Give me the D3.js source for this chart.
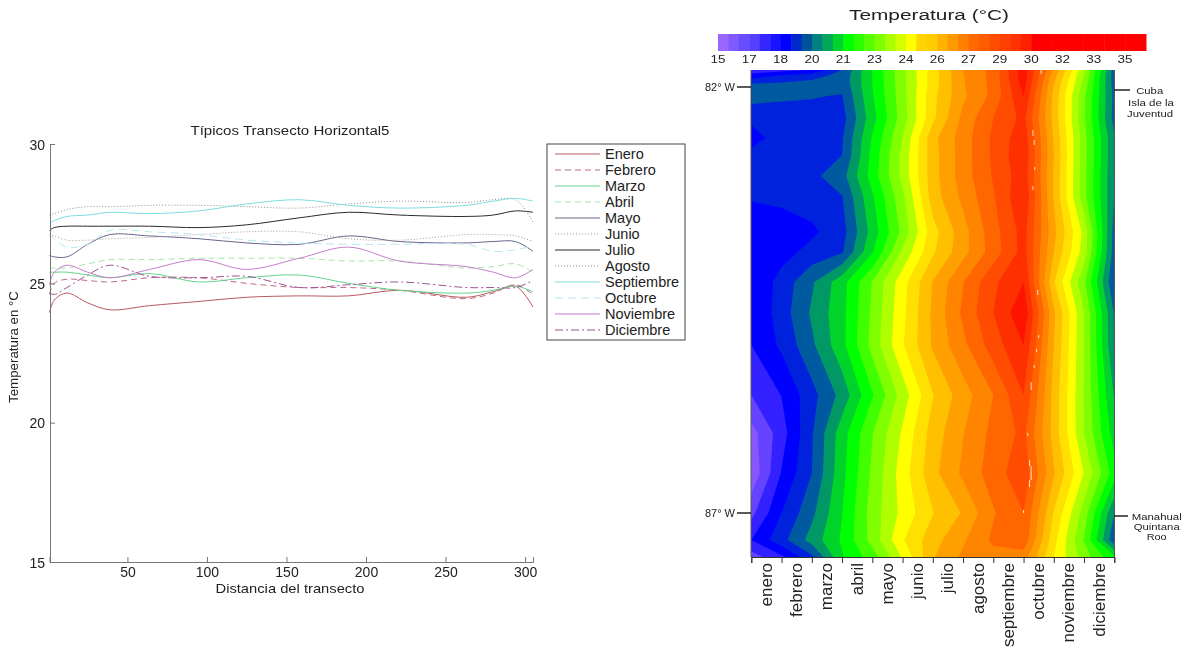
<!DOCTYPE html>
<html><head><meta charset="utf-8">
<script src="https://cdn.jsdelivr.net/npm/d3@7"></script>
<style>html,body{margin:0;padding:0;background:#fff}svg{display:block;filter:blur(0.4px)}text{font-family:"Liberation Sans",Arial,sans-serif;fill:#222}</style>
</head><body><svg id="c" width="1190" height="648"></svg>
<script>
// ---- left chart data
const chartTitle = "Típicos Transecto Horizontal5";
const transectX = [1,4,12,25,39,64,95,125,158,189,221,263,280,294,305];
const enero      = [23.95,24.4,24.65,24.3,24.05,24.2,24.35,24.5,24.55,24.55,24.75,24.5,24.7,24.9,24.15];
const febrero    = [24.6,25.0,25.15,25.1,25.05,25.2,25.2,25.0,24.85,24.85,24.75,24.45,24.65,24.95,24.6];
const marzo      = [25.4,25.4,25.4,25.3,25.2,25.35,25.05,25.2,25.3,25.0,24.75,24.65,24.75,24.9,24.7];
const abril      = [25.55,25.55,25.55,25.7,25.85,25.85,25.9,25.9,25.9,25.8,25.8,25.55,25.6,25.7,25.4];
const mayo       = [26.0,25.95,25.95,26.4,26.75,26.7,26.6,26.45,26.4,26.7,26.5,26.45,26.5,26.5,26.15];
const junio      = [26.75,26.7,26.55,26.55,26.6,26.65,26.75,26.85,26.85,26.6,26.55,26.75,26.75,26.7,26.5];
const julio      = [26.9,27.0,27.05,27.05,27.05,27.05,27.0,27.1,27.35,27.55,27.45,27.4,27.45,27.6,27.55];
const agosto     = [27.45,27.5,27.65,27.75,27.75,27.8,27.8,27.75,27.7,27.85,27.95,27.9,28.0,28.0,27.2];
const septiembre = [27.15,27.25,27.4,27.45,27.55,27.5,27.6,27.85,28.0,27.8,27.7,27.8,27.95,28.05,27.95];
const octubre    = [26.75,26.6,26.3,26.4,26.9,26.85,26.75,26.55,26.45,26.4,26.4,26.4,26.15,26.2,26.35];
const noviembre  = [24.95,25.4,25.65,25.4,25.2,25.5,25.85,25.5,25.9,26.3,25.8,25.6,25.4,25.2,25.5];
const diciembre  = [24.65,24.6,24.85,25.3,25.65,25.25,25.2,25.25,24.85,24.95,25.05,24.85,24.85,24.85,25.1];
const seriesNames = ["Enero","Febrero","Marzo","Abril","Mayo","Junio","Julio","Agosto","Septiembre","Octubre","Noviembre","Diciembre"];
const seriesValues = [enero,febrero,marzo,abril,mayo,junio,julio,agosto,septiembre,octubre,noviembre,diciembre];
const seriesColors = ["#b8585c","#c06a8a","#62d48a","#a8e4a8","#66668f","#a09a9a","#2a2a2a","#8a8a8a","#7fdde2","#b4e8ee","#c47ccc","#a0508f"];
const seriesDash = ["","6,4","","6,4","","1,2","","1,2","","8,5","","8,3,2,3"];
const yTicks = [15,20,25,30];
const xTicks = [50,100,150,200,250,300];

// ---- right chart data
const heatMonths = ["enero","febrero","marzo","abril","mayo","junio","julio","agosto","septiembre","octubre","noviembre","diciembre"];
const barLabels = ["15","17","18","20","21","23","24","26","27","29","30","32","33","35"];
const barColors = ["#9966ff","#8059ff","#664dff","#5540ff","#3326ff","#1a13ff","#0000ff","#0028cc","#005299","#008080","#00a65a","#00d32d","#00ff00","#2bff00","#55ff00","#80ff00","#aaff00","#d4ff00","#ffff00","#ffd400","#ffcc00","#ffb300","#ff9900","#ff8000","#ff6a00","#ff5c00","#ff4d00","#ff4000","#ff3300","#ff2000","#ff0000","#ff0000","#ff0000","#ff0000","#ff0000","#ff0000","#ff0000","#ff0000","#ff0000","#ff0000","#ff0000"];
const bandColors = ["#8855ff","#6644ff","#3322ff","#0000ff","#0022dd","#005aa0","#009966","#00d42b","#00ff00","#40ff00","#80ff00","#b0ff00","#ffff00","#ffe000","#ffc000","#ffa000","#ff8400","#ff6600","#ff4c00","#ff3000","#ff1400"];
// latitude rows (position along the transect, as plot pixels of the source panel) and isotherm level per month tick
const rowPos = [70,76,84,96,118,138,155,176,197,232,252,282,313,345,395,433,473,513,540,557];
const heatRows = [
[2.3,2.6,3.0,5.0,8.05,10.7,13.5,16,17.35,20.6,15.9,11.15,5.5],
[3.5,4.2,4.7,5.3,8.0,10.7,13.5,15.95,17.35,20.6,15.4,10.9,5.4],
[5.05,5.2,5.3,5.3,8.0,10.65,13.5,15.9,17.3,20.4,15,10.6,5.5],
[5.45,5.2,5.05,4.95,7.9,10.6,13.7,15.8,17.3,20.0,14.7,10.2,5.7],
[4.2,4.4,4.7,4.6,7.6,10.5,13.75,16.3,18,19.3,14.65,10.15,5.6],
[3.65,4.4,4.7,4.9,8.1,11,14.7,16.5,18.2,19.65,14.9,10.4,6.1],
[4.25,4.3,4.5,5,8.3,11.3,14.6,16.5,18.2,19.8,15,10.4,6.1],
[4.3,4.5,4.75,5.6,8.45,11.3,14.6,16.5,18.1,19.6,14.9,10.35,6],
[4.1,4.2,4.5,4.95,7.85,10.75,14.5,16.25,17.9,19.9,14.9,10.35,6],
[3.3,3.55,3.8,4.6,7.4,10.3,13.6,15.6,17.6,19.4,15.3,11.7,5.6],
[3.2,3.6,4.35,4.9,7.9,11.2,13.85,15.65,17.5,19.4,15,11.5,5.5],
[3,4.4,5.85,7.6,10.05,12.6,15.05,16.95,18.8,20,14.1,10.2,5],
[3,4.5,6.15,7.7,10.2,12.75,15.2,17.2,19,20.8,15.2,11,5.9],
[3,4.2,5.8,7.7,10.35,12.9,15.15,16.75,18.5,20,15,11,6],
[2,3.03,4.65,6.35,8.9,11.45,13.95,15.55,17,19,14.65,10.95,6.9],
[0.6,2.55,4.9,7.55,9.95,12.15,14.45,15.95,17.3,18.25,14.6,11,7.5],
[0.2,3.07,5,7.7,10.2,12.5,14.7,16.2,17.5,18.7,15.1,11.95,8.5],
[1.7,4,5.75,7.97,10.45,12.3,13.95,15.1,16.9,18,13.95,10.55,6],
[3,4.65,6.4,8.15,10.35,12.9,14.6,15.85,17.2,17.7,13.35,9.95,5.2],
[1.5,2.8,4.8,7.9,9.5,12.1,14.9,16.2,16.6,16.5,13,10.5,8.2]];
// small white gaps in the source contours: [month tick, rowFrom, rowTo]
const gapMarks = [[9.58,70,74],[9.31,130,136],[9.35,140,145],[9.37,167,170],[9.31,186,190],[9.47,290,295],[9.5,335,338],[9.43,349,352],[9.35,365,368],[9.25,382,390],[9.14,433,436],[9.2,460,466],[9.25,466,480],[9.2,480,487],[9.0,510,513]];

const svg = d3.select("#c");

// ======== LEFT LINE CHART
const x = d3.scaleLinear().domain([1,305]).range([49.5,533]);
const y = d3.scaleLinear().domain([15,30]).range([562,144]);
const L = svg.append("g");
const line = d3.line().x((d,i)=>x(transectX[i])).y(d=>y(d)).curve(d3.curveCatmullRom.alpha(0.5));
seriesValues.forEach((v,i)=>{
  L.append("path").attr("d",line(v)).attr("fill","none").attr("stroke",seriesColors[i]).attr("stroke-width",1).attr("stroke-dasharray",seriesDash[i]);
});
const gx = L.append("g").attr("transform","translate(0,562)").call(d3.axisBottom(x).tickValues(xTicks).tickSize(-5).tickPadding(5));
const gy = L.append("g").attr("transform","translate(50,0)").call(d3.axisLeft(y).tickValues(yTicks).tickSize(-5).tickPadding(6).tickFormat(d3.format("d")));
[gx,gy].forEach(g=>{
  g.selectAll("path,line").attr("stroke","#777");
  g.selectAll("text").style("font-family",'"Liberation Sans",Arial,sans-serif').style("font-size","14px").attr("fill","#222");
});
gy.selectAll("text").attr("dy","0.36em").attr("x",-5);
L.append("text").attr("x",290).attr("y",135).attr("text-anchor","middle").style("font-size","12px").attr("textLength",199).attr("lengthAdjust","spacingAndGlyphs").text(chartTitle);
L.append("text").attr("x",290).attr("y",593).attr("text-anchor","middle").style("font-size","13.5px").attr("textLength",149).attr("lengthAdjust","spacingAndGlyphs").text("Distancia del transecto");
L.append("text").attr("transform","translate(18,347) rotate(-90)").attr("text-anchor","middle").style("font-size","12px").attr("textLength",112).attr("lengthAdjust","spacingAndGlyphs").text("Temperatura en °C");
// legend
const lg = L.append("g");
lg.append("rect").attr("x",547).attr("y",144).attr("width",138).attr("height",196).attr("fill","#fff").attr("stroke","#444").attr("stroke-width",1);
const ly = d3.scalePoint().domain(seriesNames).range([154,330]);
seriesNames.forEach((n,i)=>{
  lg.append("line").attr("x1",555).attr("x2",600).attr("y1",ly(n)).attr("y2",ly(n)).attr("stroke",seriesColors[i]).attr("stroke-dasharray",seriesDash[i]);
  lg.append("text").attr("x",605).attr("y",ly(n)+5).style("font-size","14.5px").text(n);
});

// ======== RIGHT CONTOUR MAP
const hx = d3.scaleLinear().domain([0.5,12.5]).range([751.3,1114.3]).clamp(true);
const hy = d3.scaleLinear().domain(rowPos.map((d,i)=>i+0.5)).range(rowPos).clamp(true);
const xm = d3.scaleLinear().domain([0,12]).range([751.3,1114.3]);
const R = svg.append("g");
const flat = heatRows.flat();
const thresholds = d3.range(bandColors.length);
const contours = d3.contours().size([13,heatRows.length]).thresholds(thresholds)(flat);
const proj = d3.geoTransform({point(a,b){this.stream.point(hx(a),hy(b));}});
const gp = d3.geoPath(proj);
R.append("rect").attr("x",hx(0.5)).attr("y",70).attr("width",363).attr("height",487).attr("fill",bandColors[0]);
R.selectAll("path.band").data(contours).join("path").attr("class","band").attr("d",gp).attr("fill",(d,i)=>bandColors[i]);
gapMarks.forEach(g=>R.append("line").attr("x1",xm(g[0])).attr("x2",xm(g[0])).attr("y1",g[1]).attr("y2",g[2]).attr("stroke","#fff").attr("stroke-width",0.8));
// axis frame
R.append("line").attr("x1",751).attr("x2",751).attr("y1",70).attr("y2",557).attr("stroke","#555");
R.append("line").attr("x1",1114.5).attr("x2",1114.5).attr("y1",70).attr("y2",557).attr("stroke","#555");
const gm = R.append("g").attr("transform","translate(0,557)").call(d3.axisBottom(xm).tickValues(d3.range(13)).tickSize(6).tickFormat(""));
gm.selectAll("path").attr("stroke","#333"); gm.selectAll("line").attr("stroke","#333");
heatMonths.forEach((m,i)=>{
  R.append("text").attr("transform",`translate(${xm(i+0.5)+5.5},563) rotate(-90)`).attr("text-anchor","end").style("font-size","17px").attr("fill","#111").text(m);
});
// side labels
const sideTicks = [[737,751,87],[1114,1130,90],[737,751,513],[1114,1128,516]];
sideTicks.forEach(t=>R.append("line").attr("x1",t[0]).attr("x2",t[1]).attr("y1",t[2]).attr("y2",t[2]).attr("stroke","#222").attr("stroke-width",1.5));
R.append("text").attr("x",735).attr("y",91).attr("text-anchor","end").style("font-size","11px").text("82° W");
R.append("text").attr("x",735).attr("y",517).attr("text-anchor","end").style("font-size","11px").text("87° W");
[["Cuba",1149.7,94,27],["Isla de la",1151,105.5,46],["Juventud",1150,116.5,46],["Manahual",1156.7,520,50],["Quintana",1156.7,530,46],["Roo",1156.7,540,20]].forEach(t=>{
  R.append("text").attr("x",t[1]).attr("y",t[2]).attr("text-anchor","middle").style("font-size","9.5px").attr("textLength",t[3]).attr("lengthAdjust","spacingAndGlyphs").text(t[0]);
});
// colour bar
const bx = d3.scaleLinear().domain([0,barColors.length]).range([718,1146]);
barColors.forEach((c,i)=>R.append("rect").attr("x",bx(i)).attr("y",34).attr("width",bx(1)-bx(0)+0.5).attr("height",17).attr("fill",c));
barLabels.forEach((l,i)=>R.append("text").attr("x",bx(i*3)).attr("y",63).attr("text-anchor","middle").style("font-size","11px").attr("textLength",15).attr("lengthAdjust","spacingAndGlyphs").text(l));
R.append("text").attr("x",929).attr("y",20).attr("text-anchor","middle").style("font-size","14px").attr("textLength",160).attr("lengthAdjust","spacingAndGlyphs").attr("fill","#111").text("Temperatura (°C)");
</script></body></html>
